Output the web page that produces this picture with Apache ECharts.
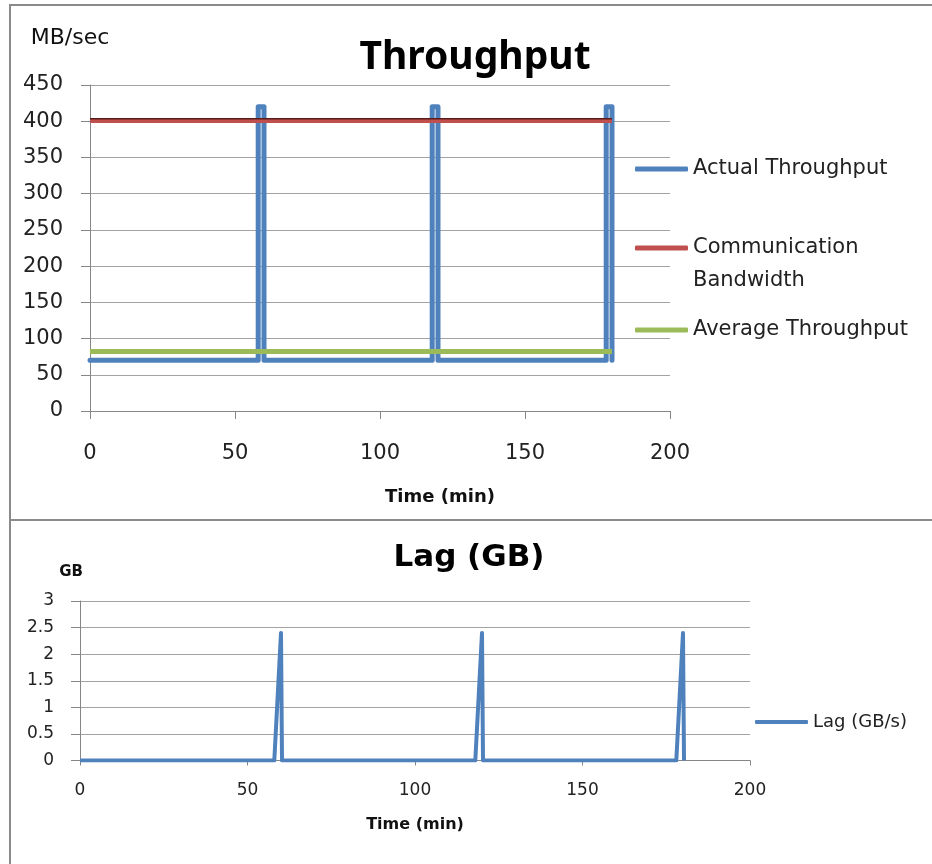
<!DOCTYPE html>
<html>
<head>
<meta charset="utf-8">
<script src="https://cdn.jsdelivr.net/npm/echarts@6/dist/echarts.min.js"></script>
<style>
html,body{margin:0;padding:0;background:#fff;}
#c{width:932px;height:864px;}
</style>
</head>
<body>
<div id="c"></div>
<script>
// ---- Data ----
const throughputTime   = [0, 58, 58, 60, 60, 118, 118, 120, 120, 178, 178, 180, 180];
const throughputActual = [70, 70, 420, 420, 70, 70, 420, 420, 70, 70, 420, 420, 70];
const bandwidthTime    = [0, 180];
const bandwidthValue   = [400, 400];
const averageTime      = [0, 180];
const averageValue     = [82, 82];
const lagTime          = [0, 58, 60, 60.3, 118, 120, 120.3, 178, 180, 180.3];
const lagValue         = [0, 0, 2.4, 0, 0, 2.4, 0, 0, 2.4, 0];

const seriesNames = ['Actual Throughput', 'Communication Bandwidth', 'Average Throughput', 'Lag (GB/s)'];

function pairs(xs, ys) { return xs.map((x, i) => [x, ys[i]]); }

const FONT = 'DejaVu Sans';
const TXT = '#222';
const GRIDC = '#a3a3a3';
const AXC = '#868686';

const chart = echarts.init(document.getElementById('c'), null, {renderer: 'canvas'});

const legendBase = {
  orient: 'vertical', padding: 0, itemWidth: 53, itemHeight: 5, icon: 'roundRect',
  selectedMode: false
};

const option = {
  animation: false,
  backgroundColor: '#fff',
  graphic: [
    {type: 'rect', z: -1, shape: {x: 10, y: 5, width: 940, height: 515}, style: {fill: 'none', stroke: '#8a8a8a', lineWidth: 2}},
    {type: 'rect', z: -1, shape: {x: 10, y: 520, width: 940, height: 360}, style: {fill: 'none', stroke: '#8a8a8a', lineWidth: 2}}
  ],
  title: [
    {text: 'Throughput', left: 475, top: 38, textAlign: 'center', padding: 0,
     textStyle: {fontFamily: 'Noto Sans', fontWeight: 'bold', fontSize: 39, color: '#000'}},
    {text: 'Lag (GB)', left: 469, top: 542, textAlign: 'center', padding: 0,
     textStyle: {fontFamily: FONT, fontWeight: 'bold', fontSize: 31, color: '#000'}}
  ],
  legend: [
    Object.assign({}, legendBase, {data: [seriesNames[0]], left: 635, top: 152.5,
      textStyle: {fontFamily: FONT, fontSize: 21, color: TXT, lineHeight: 33}}),
    Object.assign({}, legendBase, {data: [seriesNames[1]], left: 635, top: 198.5,
      formatter: () => '\nCommunication\nBandwidth',
      textStyle: {fontFamily: FONT, fontSize: 21, color: TXT, lineHeight: 33}}),
    Object.assign({}, legendBase, {data: [seriesNames[2]], left: 635, top: 313.5,
      textStyle: {fontFamily: FONT, fontSize: 21, color: TXT, lineHeight: 33}}),
    Object.assign({}, legendBase, {data: [seriesNames[3]], left: 755, top: 712,
      itemHeight: 4,
      textStyle: {fontFamily: FONT, fontSize: 18, color: TXT, lineHeight: 20}})
  ],
  grid: [
    {left: 90, top: 85, width: 580, height: 326},
    {left: 80, top: 601, width: 670, height: 159.5}
  ],
  xAxis: [
    {gridIndex: 0, type: 'value', min: 0, max: 200, interval: 50,
     name: 'Time (min)', nameLocation: 'middle', nameGap: 77,
     nameTextStyle: {fontFamily: FONT, fontWeight: 'bold', fontSize: 18, color: '#111', padding: [0, 0, 0, 120]},
     axisLine: {show: true, onZero: false, lineStyle: {color: AXC, width: 1}},
     axisTick: {show: true, length: 8, lineStyle: {color: AXC}},
     axisLabel: {fontFamily: FONT, fontSize: 21, color: TXT, margin: 32},
     splitLine: {show: false}},
    {gridIndex: 1, type: 'value', min: 0, max: 200, interval: 50,
     name: 'Time (min)', nameLocation: 'middle', nameGap: 56,
     nameTextStyle: {fontFamily: FONT, fontWeight: 'bold', fontSize: 16, color: '#111'},
     axisLine: {show: true, onZero: false, lineStyle: {color: AXC, width: 1}},
     axisTick: {show: true, length: 5, lineStyle: {color: AXC}},
     axisLabel: {fontFamily: FONT, fontSize: 17, color: TXT, margin: 22},
     splitLine: {show: false}}
  ],
  yAxis: [
    {gridIndex: 0, type: 'value', min: 0, max: 450, interval: 50,
     name: 'MB/sec', nameLocation: 'end', nameGap: 36,
     nameTextStyle: {fontFamily: FONT, fontSize: 22, color: '#111', align: 'center', padding: [0, 40, 0, 0]},
     axisLine: {show: true, lineStyle: {color: AXC, width: 1}},
     axisTick: {show: true, length: 9, lineStyle: {color: AXC}},
     axisLabel: {fontFamily: FONT, fontSize: 21, color: TXT, margin: 27},
     splitLine: {show: true, lineStyle: {color: GRIDC, width: 1}}},
    {gridIndex: 1, type: 'value', min: 0, max: 3, interval: 0.5,
     name: 'GB', nameLocation: 'end', nameGap: 21,
     nameTextStyle: {fontFamily: FONT, fontWeight: 'bold', fontSize: 15, color: '#111', align: 'center', padding: [0, 18, 0, 0]},
     axisLine: {show: true, lineStyle: {color: AXC, width: 1}},
     axisTick: {show: true, length: 9, lineStyle: {color: AXC}},
     axisLabel: {fontFamily: FONT, fontSize: 17, color: TXT, margin: 26},
     splitLine: {show: true, lineStyle: {color: GRIDC, width: 1}}}
  ],
  series: [
    {name: seriesNames[0], type: 'line', xAxisIndex: 0, yAxisIndex: 0, symbol: 'none',
     data: pairs(throughputTime, throughputActual), color: '#4F81BD',
     lineStyle: {width: 5, color: '#4F81BD', cap: 'round', join: 'round'}},
    {name: seriesNames[1], type: 'line', xAxisIndex: 0, yAxisIndex: 0, symbol: 'none',
     data: pairs(bandwidthTime, bandwidthValue), color: '#C0504D',
     lineStyle: {width: 3.5, color: '#C0504D', shadowColor: '#5a1c1a', shadowBlur: 0, shadowOffsetY: -1.5}},
    {name: seriesNames[2], type: 'line', xAxisIndex: 0, yAxisIndex: 0, symbol: 'none',
     data: pairs(averageTime, averageValue), color: '#9BBB59',
     lineStyle: {width: 5, color: '#9BBB59'}},
    {name: seriesNames[3], type: 'line', xAxisIndex: 1, yAxisIndex: 1, symbol: 'none',
     data: pairs(lagTime, lagValue), color: '#4F81BD',
     lineStyle: {width: 4, color: '#4F81BD', join: 'round'}}
  ]
};

chart.setOption(option);
</script>
</body>
</html>
